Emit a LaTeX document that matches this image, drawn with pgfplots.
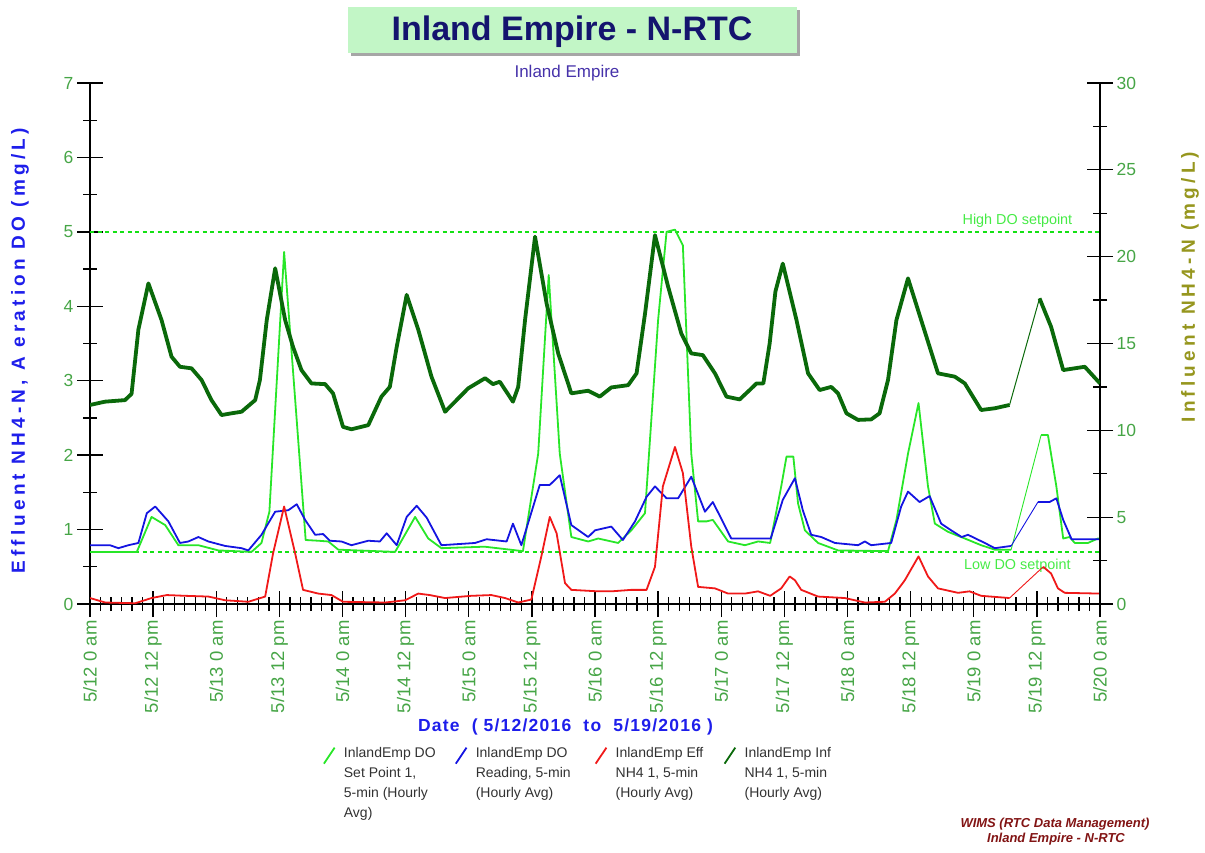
\documentclass[border=0pt]{standalone}
\usepackage{fontspec}
\setmainfont{Liberation Sans}
\newfontfamily\lsA[LetterSpace=22]{Liberation Sans}
\newfontfamily\lsX[LetterSpace=7]{Liberation Sans}
\usepackage{pgfplots}
\usepackage{pgfplotstable}
\pgfplotsset{compat=1.18}

\definecolor{spgreen}{RGB}{40,230,40}
\definecolor{rdblue}{RGB}{20,20,225}
\definecolor{effred}{RGB}{240,25,25}
\definecolor{infgreen}{RGB}{10,105,10}
\definecolor{refgreen}{RGB}{20,225,20}
\definecolor{reftext}{RGB}{70,235,70}
\definecolor{tickgreen}{RGB}{70,165,70}
\definecolor{titlefill}{RGB}{194,246,198}
\definecolor{titlenavy}{RGB}{20,20,110}
\definecolor{subnavy}{RGB}{70,50,170}
\definecolor{lblue}{RGB}{30,30,235}
\definecolor{olive}{RGB}{150,150,30}
\definecolor{footred}{RGB}{130,20,20}
\definecolor{legtext}{RGB}{50,50,50}

% DO set point 1 (left axis, mg/L), hours from 5/12 0 am
\pgfplotstableread{
h v
0 0.70
8.9 0.70
11.7 1.17
14.3 1.06
16.8 0.79
20.6 0.79
24.4 0.72
30.7 0.70
32.6 0.82
34.1 1.24
36.9 4.73
41.0 0.86
43.4 0.85
45.3 0.84
47.2 0.73
58.0 0.70
61.8 1.17
64.3 0.88
66.8 0.75
75.0 0.77
82.3 0.71
85.2 2.02
87.2 4.42
89.3 2.02
91.5 0.90
94.7 0.84
96.6 0.88
100.4 0.82
102.9 0.99
105.5 1.22
108.0 3.82
109.6 5.00
111.2 5.03
112.7 4.82
114.3 2.02
115.6 1.11
117.2 1.11
118.4 1.13
121.3 0.84
124.5 0.79
127.0 0.84
129.3 0.82
131.4 1.58
132.4 1.98
133.7 1.98
134.6 1.35
135.9 0.99
138.4 0.82
142.2 0.72
151.7 0.71
153.3 1.13
155.5 2.02
157.5 2.70
159.3 1.58
160.6 1.08
163.1 0.97
166.3 0.88
169.4 0.79
172.0 0.73
175.1 0.73
}\tblSPa
\pgfplotstableread{
h v
180.8 2.27
182.1 2.27
183.7 1.58
185.0 0.88
186.2 0.90
187.2 0.82
189.7 0.82
191.6 0.88
192.0 0.88
}\tblSPb

% DO reading
\pgfplotstableread{
h v
0 0.79
3.8 0.79
5.4 0.75
7.3 0.79
9.2 0.82
10.8 1.22
12.4 1.31
14.9 1.11
17.1 0.82
18.7 0.84
20.6 0.90
22.5 0.84
25.7 0.78
28.8 0.75
30.1 0.72
32.6 0.93
35.2 1.24
37.7 1.26
39.3 1.34
40.9 1.13
42.8 0.93
44.3 0.94
45.6 0.85
47.8 0.84
49.7 0.79
52.9 0.85
55.1 0.84
56.4 0.95
58.3 0.79
60.2 1.17
62.1 1.32
64.0 1.16
66.8 0.79
73.2 0.82
75.4 0.87
79.2 0.84
80.4 1.08
82.0 0.79
85.5 1.60
87.4 1.60
89.3 1.73
91.5 1.06
94.7 0.90
96.0 0.99
99.1 1.04
101.3 0.86
103.6 1.11
105.8 1.44
107.4 1.58
109.6 1.42
111.8 1.42
114.3 1.71
116.9 1.24
118.4 1.37
121.9 0.88
125.7 0.88
129.4 0.88
131.7 1.40
134.0 1.69
135.5 1.26
137.1 0.93
139.0 0.90
141.6 0.82
146.0 0.79
147.3 0.84
148.5 0.79
152.3 0.82
154.2 1.31
155.5 1.51
157.7 1.37
159.6 1.45
161.8 1.08
163.7 0.99
165.7 0.90
166.9 0.93
170.1 0.82
172.0 0.75
175.1 0.78
}\tblRDa
\pgfplotstableread{
h v
180.2 1.37
182.4 1.37
183.7 1.42
185.0 1.13
186.6 0.87
192.0 0.87
}\tblRDb

% Effluent NH4
\pgfplotstableread{
h v
0 0.08
2.9 0.02
8.6 0.01
11.7 0.08
14.6 0.12
18.1 0.11
22.5 0.10
25.7 0.05
30.1 0.03
33.3 0.10
34.8 0.68
36.9 1.31
39.0 0.68
40.5 0.19
43.4 0.14
45.9 0.12
48.1 0.03
56.1 0.02
59.9 0.05
62.4 0.14
64.6 0.12
67.5 0.08
72.5 0.11
76.3 0.12
78.9 0.08
81.4 0.02
83.9 0.06
85.8 0.64
87.4 1.17
88.7 0.95
90.3 0.28
91.5 0.19
96.6 0.17
99.1 0.17
102.9 0.19
105.8 0.19
107.4 0.50
108.9 1.58
111.2 2.11
112.7 1.76
114.3 0.77
115.6 0.23
118.8 0.21
121.3 0.14
124.5 0.14
127.0 0.17
129.3 0.11
131.4 0.21
133.0 0.37
134.0 0.32
135.2 0.19
138.4 0.10
143.5 0.08
147.3 0.02
151.1 0.03
153.0 0.14
154.9 0.32
157.5 0.64
159.3 0.37
161.2 0.21
165.0 0.15
167.2 0.17
169.4 0.11
174.8 0.08
}\tblEFa
\pgfplotstableread{
h v
181.2 0.50
182.7 0.41
184.0 0.21
185.3 0.15
192.0 0.14
}\tblEFb

% Influent NH4 (right axis)
\pgfplotstableread{
h v
0 11.46
2.85 11.65
6.65 11.74
7.9 12.1
9.2 15.8
11.1 18.46
13.6 16.35
15.5 14.24
17.1 13.66
19.3 13.57
21.2 12.9
23.1 11.74
25.0 10.88
26.9 10.98
28.8 11.07
31.4 11.74
32.3 12.9
33.6 16.35
35.2 19.33
37.1 16.35
38.6 14.8
40.2 13.47
42.1 12.7
44.7 12.66
46.2 12.13
48.1 10.2
49.7 10.06
52.9 10.3
55.4 11.94
57.0 12.5
58.3 14.8
60.2 17.8
62.4 15.8
63.7 14.4
64.9 13.1
67.5 11.07
71.9 12.42
75.1 13.0
76.6 12.66
77.9 12.8
80.4 11.65
81.4 12.5
82.7 16.35
84.6 21.15
86.8 17.3
89.0 14.43
91.5 12.13
94.7 12.28
96.9 11.94
99.1 12.47
102.3 12.6
103.9 13.28
105.5 16.7
107.4 21.24
109.9 18.27
112.4 15.58
114.3 14.43
116.5 14.33
118.8 13.28
121.0 11.94
123.5 11.78
125.4 12.32
126.7 12.7
128.0 12.7
129.2 15.0
130.3 18.0
131.7 19.6
134.3 16.35
136.5 13.28
138.7 12.32
140.9 12.5
142.2 12.13
143.8 10.98
146.0 10.6
148.5 10.63
150.1 10.98
151.7 12.9
153.3 16.35
155.5 18.75
158.0 16.35
161.2 13.28
164.4 13.09
166.3 12.7
169.4 11.17
172.0 11.27
174.8 11.46
}\tblINa
\pgfplotstableread{
h v
180.5 17.6
182.7 15.96
185.0 13.47
189.1 13.66
192.0 12.7
}\tblINb

\pgfplotsset{
  commonax/.style={
    at={(90pt,248pt)}, anchor=south west,
    scale only axis, width=1010pt, height=521pt,
    xmin=0, xmax=192,
    axis line style={black, line width=1.3pt},
    tick align=center, major tick length=26pt, minor tick length=14pt,
    every tick/.style={black, line width=1.3pt},
    /pgf/number format/assume math mode=true,
    yticklabel style={font=\fontsize{17.5}{17.5}\selectfont, text=tickgreen},
  }
}

\begin{document}
\begin{tikzpicture}[x=1pt,y=1pt]
\useasboundingbox (0,0) rectangle (1205,852);
% title
\fill[black!35] (351,796) rectangle (800,842);
\fill[titlefill] (348,799) rectangle (797,845);
\node[anchor=base, font=\fontsize{34}{34}\selectfont\bfseries, text=titlenavy] at (572,811.8) {Inland Empire - N-RTC};
\node[anchor=base, font=\fontsize{17}{17}\selectfont, text=subnavy] at (567,774) {Inland Empire};

\begin{axis}[commonax,
  ymin=0, ymax=7,
  axis x line*=bottom, axis y line*=left,
  xtick={0,12,...,192}, minor x tick num=5,
  ytick={0,1,...,7}, minor y tick num=1,
  xticklabels={5/12 0 am,5/12 12 pm,5/13 0 am,5/13 12 pm,5/14 0 am,5/14 12 pm,5/15 0 am,5/15 12 pm,5/16 0 am,5/16 12 pm,5/17 0 am,5/17 12 pm,5/18 0 am,5/18 12 pm,5/19 0 am,5/19 12 pm,5/20 0 am},
  xticklabel style={rotate=90, anchor=east, font=\fontsize{18.5}{18.5}\selectfont, text=tickgreen},
  legend columns=4,
  legend style={at={(axis description cs:0.2307,-0.274)}, anchor=north west,
    draw=none, fill=none, inner sep=0pt, outer sep=0pt, column sep=0pt, row sep=0pt,
    font=\fontsize{14}{20}\selectfont, text=legtext,
    nodes={inner sep=0pt, outer sep=0pt, text depth=0pt},
    cells={anchor=base west}},
  legend image code/.code={\draw[#1, line width=1.8pt] (0pt,-6pt) -- (10.7pt,10pt); \path[draw=none, fill=none] (0pt,0pt) (20pt,0pt);},
]
\addplot[refgreen, line width=1.6pt, dash pattern=on 4pt off 3.5pt, mark=none, forget plot] coordinates {(0,5) (192,5)};
\addplot[refgreen, line width=1.6pt, dash pattern=on 4pt off 3.5pt, mark=none, forget plot] coordinates {(0,0.7) (192,0.7)};
\node[font=\fontsize{14.4}{14.4}\selectfont, text=reftext] at (axis cs:176.3,5.15) {High DO setpoint};
\node[font=\fontsize{14.4}{14.4}\selectfont, text=reftext] at (axis cs:176.3,0.51) {Low DO setpoint};

\addplot[spgreen, line width=1.8pt, line join=round] table[x=h,y=v] {\tblSPa};
\addlegendentry{\parbox[t]{111pt}{\raggedright InlandEmp DO\\Set Point 1,\\5-min (Hourly\\Avg)}}
\addplot[spgreen, line width=1.8pt, line join=round, forget plot] table[x=h,y=v] {\tblSPb};
\addplot[spgreen, line width=0.9pt, forget plot] coordinates {(175.1,0.73) (180.8,2.27)};

\addplot[rdblue, line width=1.8pt, line join=round] table[x=h,y=v] {\tblRDa};
\addlegendentry{\parbox[t]{119pt}{\raggedright InlandEmp DO\\Reading, 5-min\\(Hourly Avg)}}
\addplot[rdblue, line width=1.8pt, line join=round, forget plot] table[x=h,y=v] {\tblRDb};
\addplot[rdblue, line width=0.9pt, forget plot] coordinates {(175.1,0.78) (180.2,1.37)};

\addplot[effred, line width=1.8pt, line join=round] table[x=h,y=v] {\tblEFa};
\addlegendentry{\parbox[t]{108pt}{\raggedright InlandEmp Eff\\NH4 1, 5-min\\(Hourly Avg)}}
\addplot[effred, line width=1.8pt, line join=round, forget plot] table[x=h,y=v] {\tblEFb};
\addplot[effred, line width=0.9pt, forget plot] coordinates {(174.8,0.08) (181.2,0.50)};

\addlegendimage{infgreen, line width=2.4pt}
\addlegendentry{\parbox[t]{100pt}{\raggedright InlandEmp Inf\\NH4 1, 5-min\\(Hourly Avg)}}
\end{axis}

\begin{axis}[commonax,
  ymin=0, ymax=30,
  hide x axis, axis y line*=right,
  ytick={0,5,...,30}, minor y tick num=1,
]
\addplot[infgreen, line width=3.8pt, line join=round] table[x=h,y=v] {\tblINa};
\addplot[infgreen, line width=3.8pt, line join=round] table[x=h,y=v] {\tblINb};
\addplot[infgreen, line width=1pt] coordinates {(174.8,11.46) (180.5,17.6)};
\end{axis}

% axis titles
\node[rotate=90, font=\lsA\fontsize{19}{19}\selectfont\bfseries, text=lblue] at (20,501) {Effluent NH4-N, A eration DO (mg/L)};
\node[rotate=90, font=\lsA\fontsize{19}{19}\selectfont\bfseries, text=olive] at (1190,565) {Influent NH4-N (mg/L)};
\node[anchor=base, font=\lsX\fontsize{17.5}{17.5}\selectfont\bfseries, text=lblue] at (565.5,121) {Date\ \ ( 5/12/2016\ \ to\ \ 5/19/2016 )};
% footer
\node[anchor=base, font=\fontsize{13}{13}\selectfont\bfseries\itshape, text=footred] at (1055,25) {WIMS (RTC Data Management)};
\node[anchor=base, font=\fontsize{13}{13}\selectfont\bfseries\itshape, text=footred] at (1056,10) {Inland Empire - N-RTC};
\end{tikzpicture}
\end{document}
